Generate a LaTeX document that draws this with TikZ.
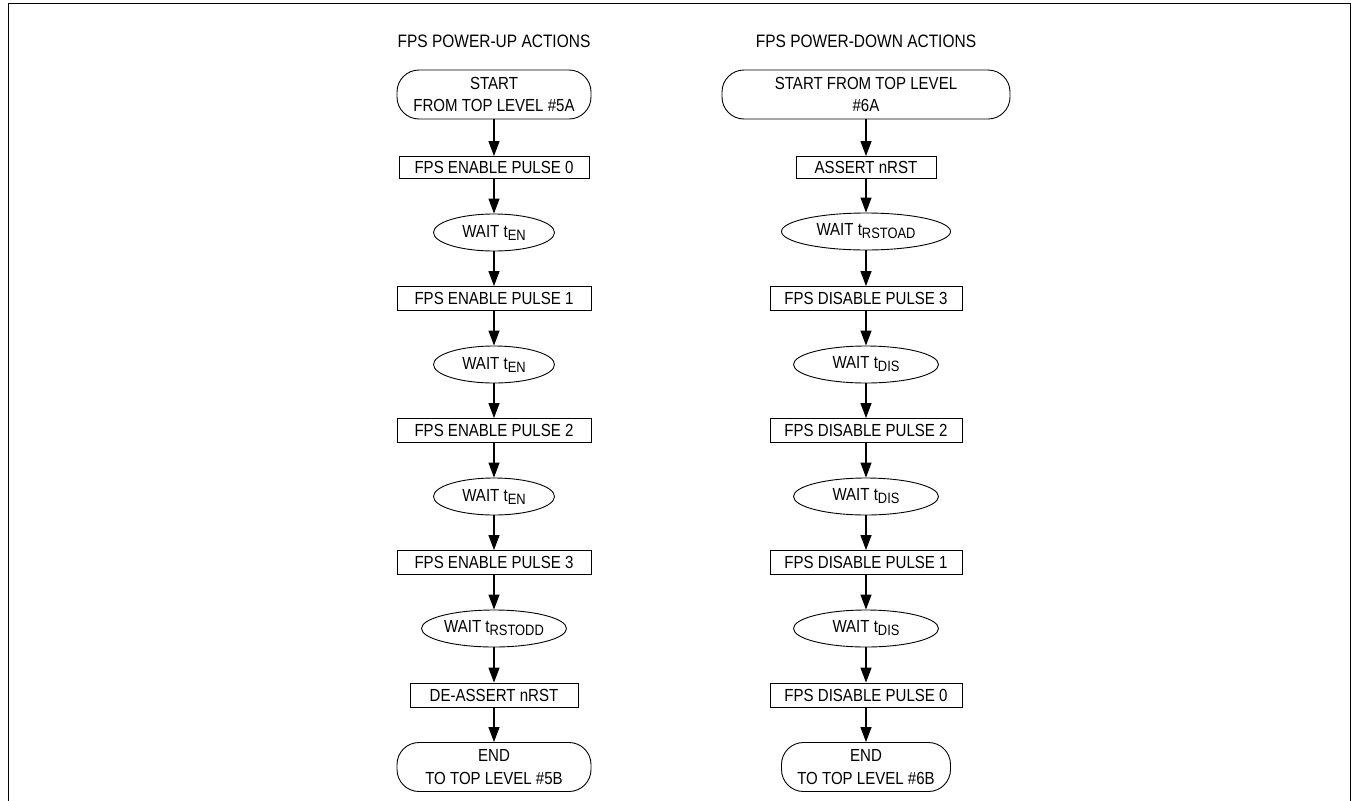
\documentclass[tikz,border=0pt]{standalone}
\usepackage{fontspec}
\setmainfont{Liberation Sans}[FakeStretch=0.86]
\usetikzlibrary{shapes.geometric,arrows.meta}
\newcommand{\lowsub}[1]{\raisebox{-3pt}{\fontsize{15}{15}\selectfont #1}}
\begin{document}
\begin{tikzpicture}[x=1pt,y=-1pt,
  base/.style={draw=black, line width=0.9pt, inner sep=0pt, font=\fontsize{17.5}{22.7}\selectfont, align=center},
  procbox/.style={base, rectangle, minimum height=24pt},
  waitell/.style={base, ellipse, minimum height=37pt},
  term/.style={base, rectangle, rounded corners=22pt, minimum height=49pt},
  flow/.style={line width=1.2pt, -{Triangle[width=11pt,length=15pt]}},
  ttl/.style={font=\fontsize{18}{18}\selectfont, inner sep=0pt, anchor=base}
]
\useasboundingbox (0,0) rectangle (1353,801);
\draw[line width=1.6pt] (8.5,801) -- (8.5,3.5) -- (1350.5,3.5) -- (1350.5,801);

% titles
\node[ttl] (t1) at (494,47) {FPS POWER-UP ACTIONS};
\node[ttl] (t2) at (866,47) {FPS POWER-DOWN ACTIONS};

% left column
\node[term, minimum width=194pt] (ls) at (494,94.5) {START\\FROM TOP LEVEL \#5A};
\node[procbox, minimum width=190pt, minimum height=22pt] (l1) at (494,167.5) {FPS ENABLE PULSE 0};
\node[waitell, minimum width=121pt] (l2) at (494,232.5) {WAIT t\lowsub{EN}};
\node[procbox, minimum width=194pt] (l3) at (494,298.5) {FPS ENABLE PULSE 1};
\node[waitell, minimum width=121pt] (l4) at (494,364.5) {WAIT t\lowsub{EN}};
\node[procbox, minimum width=194pt] (l5) at (494,430.5) {FPS ENABLE PULSE 2};
\node[waitell, minimum width=121pt] (l6) at (494,496.5) {WAIT t\lowsub{EN}};
\node[procbox, minimum width=194pt] (l7) at (494,562.5) {FPS ENABLE PULSE 3};
\node[waitell, minimum width=145pt] (l8) at (494,628.5) {WAIT t\lowsub{RSTODD}};
\node[procbox, minimum width=168pt] (l9) at (494,695) {DE-ASSERT nRST};
\node[term, minimum width=194pt] (le) at (494,767) {END\\TO TOP LEVEL \#5B};

% right column
\node[term, minimum width=288pt] (rs) at (866,94.5) {START FROM TOP LEVEL\\\#6A};
\node[procbox, minimum width=140pt, minimum height=22pt] (r1) at (866,167.5) {ASSERT nRST};
\node[waitell, minimum width=169pt] (r2) at (866,231.5) {WAIT t\lowsub{RSTOAD}};
\node[procbox, minimum width=192pt] (r3) at (866,298.5) {FPS DISABLE PULSE 3};
\node[waitell, minimum width=145pt] (r4) at (866,364.5) {WAIT t\lowsub{DIS}};
\node[procbox, minimum width=192pt] (r5) at (866,430.5) {FPS DISABLE PULSE 2};
\node[waitell, minimum width=145pt] (r6) at (866,496.5) {WAIT t\lowsub{DIS}};
\node[procbox, minimum width=192pt] (r7) at (866,562.5) {FPS DISABLE PULSE 1};
\node[waitell, minimum width=145pt] (r8) at (866,628.5) {WAIT t\lowsub{DIS}};
\node[procbox, minimum width=192pt] (r9) at (866,695) {FPS DISABLE PULSE 0};
\node[term, minimum width=169pt] (re) at (866,767) {END\\TO TOP LEVEL \#6B};

\foreach \a/\b in {ls/l1,l1/l2,l2/l3,l3/l4,l4/l5,l5/l6,l6/l7,l7/l8,l8/l9,l9/le,
                   rs/r1,r1/r2,r2/r3,r3/r4,r4/r5,r5/r6,r6/r7,r7/r8,r8/r9,r9/re}
  \draw[flow] (\a) -- (\b);
\end{tikzpicture}
\end{document}
